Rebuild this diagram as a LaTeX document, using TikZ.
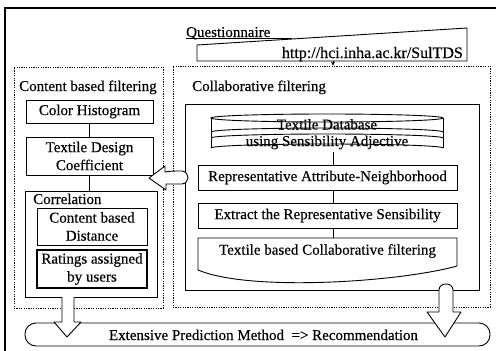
\documentclass[tikz,border=0pt]{standalone}
\usepackage{fontspec}
\setmainfont{Liberation Serif}[FakeBold=0.35]
\usetikzlibrary{arrows.meta}
\begin{document}
\begin{tikzpicture}[x=1pt,y=-1pt,
  every node/.style={font=\fontsize{15}{18}\selectfont, inner sep=0pt},
  box/.style={draw, line width=0.9pt, align=center},
  group/.style={draw, line width=0.9pt, dash pattern=on 1.2pt off 1.2pt},
  thin/.style={line width=0.9pt},
  blockarrow/.style={draw, fill=white, line width=0.9pt, line join=round}]
\useasboundingbox (0,0) rectangle (496,351);
\clip (0,0) rectangle (496,351);

% outer frame
\draw[line width=1.4pt] (5,360) -- (5,8) -- (500,8);

% questionnaire input
\node[anchor=base west] (q) at (186,37) {Questionnaire};
\draw[thin] (186,38.5) -- (292,38.5);
\draw[thin] (197,45) -- (467,28) -- (467,61) -- (197,61) -- cycle;
\node[anchor=base east, font=\fontsize{16}{18}\selectfont] (url) at (463,58) {http://hci.inha.ac.kr/SulTDS};
\coordinate (ua) at (333,61);

% groups
\node[group, minimum width=149pt, minimum height=241pt] (cbf) at (88.5,187.5) {};
\node[anchor=base west] at (19,91) {Content based filtering};
\node[group, minimum width=317pt, minimum height=241pt] (cf) at (331.5,186.5) {};
\node[anchor=base west] at (192,91) {Collaborative filtering};
\draw[-{Stealth[length=4pt,width=4pt]}, thin] (ua) -- (ua |- cf.north);

% content based column
\node[box, minimum width=127pt, minimum height=23pt] (ch) at (89.5,111.5) {Color Histogram};
\node[box, minimum width=127pt, minimum height=38pt] (tdc) at (89.5,156) {Textile Design\\Coefficient};
\node[box, minimum width=132pt, minimum height=106pt] (corr) at (91,244) {};
\node[anchor=base west] (corrlbl) at (33,204) {Correlation};
\node[box, minimum width=110pt, minimum height=37pt] (cbd) at (92,226.5) {Content based\\Distance};
\node[box, line width=1.2pt, minimum width=110pt, minimum height=38pt] (rat) at (92,269) {Ratings assigned\\by users};
\draw[thin] (ch) -- (tdc);
\draw[thin] (tdc) -- (tdc |- corr.north);

% collaborative column
\node[draw, line width=0.9pt, minimum width=294pt, minimum height=186pt] (inner) at (332,197) {};
\coordinate (xl) at (333,0);

% textile database (stacked disk)
\begin{scope}[thin]
  \draw (327,118) ellipse [x radius=116, y radius=4];
  \draw (211,118) -- (211,148);
  \draw (443,118) -- (443,148);
  \draw (211,132) arc [start angle=180, end angle=360, x radius=116, y radius=4];
  \draw (211,138) arc [start angle=180, end angle=360, x radius=116, y radius=4];
  \draw (211,148) arc [start angle=180, end angle=360, x radius=116, y radius=4];
\end{scope}
\node[anchor=base] (db1) at (327,129.5) {Textile Database};
\node[anchor=base] (db2) at (327,146) {using Sensibility Adjective};
\coordinate (dbb) at (333,152);

\node[box, minimum width=259pt, minimum height=25pt] (ran) at (327.5,177.5) {Representative Attribute-Neighborhood};
\node[box, minimum width=259pt, minimum height=25pt] (ext) at (327.5,215.5) {Extract the Representative Sensibility};
\draw[thin] (198,238) -- (457,238) -- (457,266)
  .. controls (400,282) and (250,292) .. (198,270) -- cycle;
\node (tbcf) at (327.5,251) {Textile based Collaborative filtering};
\coordinate (tbt) at (333,238);

\draw[thin] (dbb) -- (ran.north -| xl);
\draw[thin] (ran.south -| xl) -- (ext.north -| xl);
\draw[thin] (ext.south -| xl) -- (tbt);

% prediction
\node[draw, line width=0.9pt, rounded corners=11pt, minimum width=465pt, minimum height=23pt] (epm) at (257.5,334.5) {};
\node[anchor=base] (epmt) at (263.5,340) {Extensive Prediction Method\ \ => Recommendation};

% block arrows
\draw[blockarrow] (149,178) -- (165,166) -- (165,172)
  .. controls (172,171) .. (182,171)
  .. controls (190,172) and (190,183) .. (182,184)
  -- (166,184) -- (166,190) -- cycle;
\draw[blockarrow] (62,297) -- (62,322) -- (54,322) -- (67,337) -- (81,322) -- (74,322) -- (74,297);
\draw[blockarrow] (439,312) -- (439,290) .. controls (439,282) and (453,282) .. (453,290)
  -- (453,312) -- (461,312) -- (445,337) -- (427,312) -- cycle;
\end{tikzpicture}
\end{document}
